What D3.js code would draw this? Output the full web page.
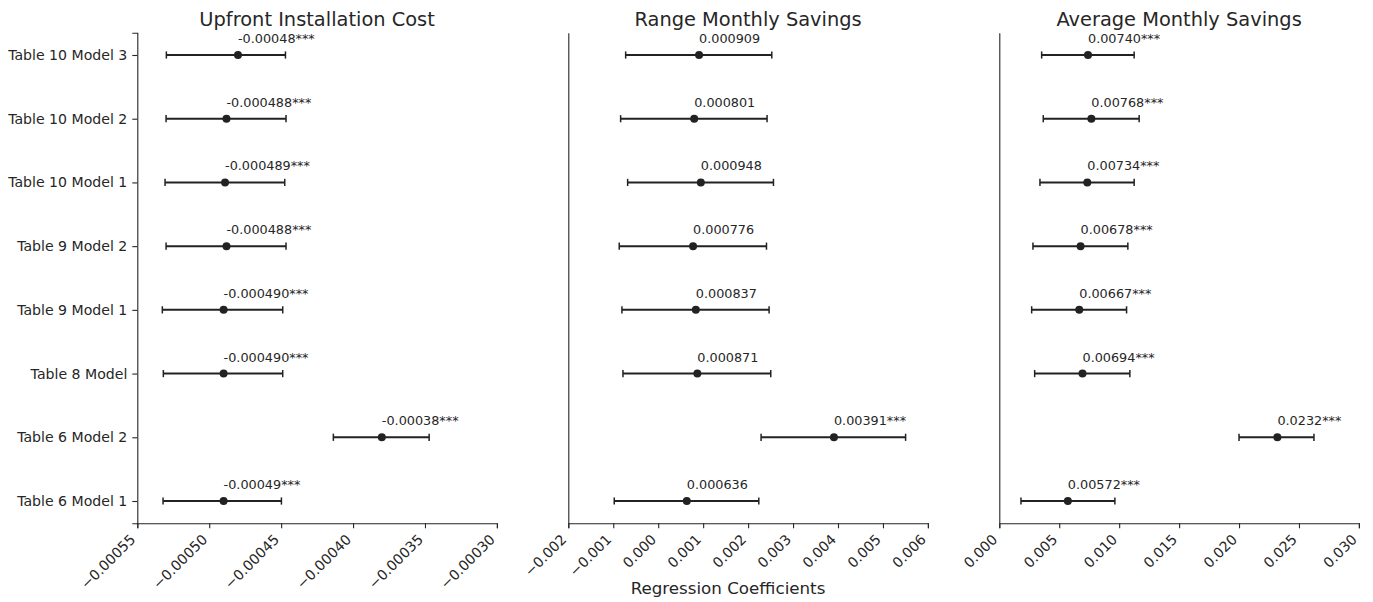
<!DOCTYPE html>
<html>
<head>
<meta charset="utf-8">
<script src="https://cdn.jsdelivr.net/npm/d3@7"></script>
<style>
  html, body { margin: 0; padding: 0; background: #fff; }
  svg { display: block; font-family: "DejaVu Sans", sans-serif; }
</style>
</head>
<body>
<svg id="chart" width="1373" height="602"></svg>
<script>
// Model specifications, listed top to bottom
const models = [
  "Table 10 Model 3", "Table 10 Model 2", "Table 10 Model 1", "Table 9 Model 2",
  "Table 9 Model 1", "Table 8 Model", "Table 6 Model 2", "Table 6 Model 1"
];

// Upfront installation cost: coefficient (as reported), 95% CI bounds, significance
const upfrontCoef = ["-0.00048", "-0.000488", "-0.000489", "-0.000488", "-0.000490", "-0.000490", "-0.00038", "-0.00049"];
const upfrontLow  = [-0.0005298, -0.0005300, -0.0005307, -0.0005300, -0.0005326, -0.0005319, -0.0004137, -0.0005321];
const upfrontHigh = [-0.0004470, -0.0004466, -0.0004475, -0.0004466, -0.0004489, -0.0004489, -0.0003471, -0.0004498];
const upfrontStars = ["***", "***", "***", "***", "***", "***", "***", "***"];
const upfrontTicks = [-0.00055, -0.00050, -0.00045, -0.00040, -0.00035, -0.00030];

// Range of monthly savings
const rangeCoef = ["0.000909", "0.000801", "0.000948", "0.000776", "0.000837", "0.000871", "0.00391", "0.000636"];
const rangeLow  = [-0.000724, -0.000836, -0.000680, -0.000867, -0.000807, -0.000784, 0.002289, -0.000978];
const rangeHigh = [0.002527, 0.002422, 0.002564, 0.002409, 0.002467, 0.002504, 0.005504, 0.002238];
const rangeStars = ["", "", "", "", "", "", "***", ""];
const rangeTicks = [-0.002, -0.001, 0.000, 0.001, 0.002, 0.003, 0.004, 0.005, 0.006];

// Average monthly savings
const avgCoef = ["0.00740", "0.00768", "0.00734", "0.00678", "0.00667", "0.00694", "0.0232", "0.00572"];
const avgLow  = [0.003533, 0.003667, 0.003392, 0.002808, 0.002700, 0.002950, 0.020000, 0.001808];
const avgHigh = [0.011250, 0.011667, 0.011250, 0.010725, 0.010617, 0.010892, 0.026250, 0.009642];
const avgStars = ["***", "***", "***", "***", "***", "***", "***", "***"];
const avgTicks = [0.000, 0.005, 0.010, 0.015, 0.020, 0.025, 0.030];

const panels = [
  { title: "Upfront Installation Cost", coef: upfrontCoef, low: upfrontLow, high: upfrontHigh, stars: upfrontStars,
    ticks: upfrontTicks, fmt: d3.format(".5f"), left: 137.3 },
  { title: "Range Monthly Savings", coef: rangeCoef, low: rangeLow, high: rangeHigh, stars: rangeStars,
    ticks: rangeTicks, fmt: d3.format(".3f"), left: 568.3 },
  { title: "Average Monthly Savings", coef: avgCoef, low: avgLow, high: avgHigh, stars: avgStars,
    ticks: avgTicks, fmt: d3.format(".3f"), left: 999.3 }
];

const panelWidth = 359.6;
const plotTop = 32.7, plotBottom = 523.3;
const ink = "#262626";
const markColor = "#222222";

const svg = d3.select("#chart");

// Categorical rows placed at integer positions, first row at the top
const y = d3.scaleLinear().domain([-0.35, models.length - 1 + 0.35]).range([plotBottom, plotTop]);
const rowPos = (i) => y(models.length - 1 - i);

panels.forEach((p, pi) => {
  const g = svg.append("g");
  const x = d3.scaleLinear()
    .domain([p.ticks[0], p.ticks[p.ticks.length - 1]])
    .range([p.left, p.left + panelWidth]);

  // Bottom axis with rotated tick labels
  const xAxis = d3.axisBottom(x).tickValues(p.ticks).tickFormat(d => p.fmt(d).replace("-", "\u2212"))
    .tickSizeOuter(0).tickSize(5).tickPadding(0);
  const xg = g.append("g").attr("transform", `translate(0,${plotBottom})`).call(xAxis);
  xg.select(".domain").attr("stroke", ink).attr("stroke-width", 1.1);
  xg.selectAll(".tick line").attr("stroke", ink).attr("stroke-width", 1.1);
  xg.selectAll(".tick text")
    .attr("fill", ink)
    .style("font-size", "14.1px")
    .style("font-family", "DejaVu Sans")
    .attr("text-anchor", "end")
    .attr("dy", null)
    .attr("y", null)
    .attr("transform", "translate(-1.5,17) rotate(-45)");

  // Left axis; labels only on the first panel
  const yAxis = d3.axisLeft(y)
    .tickValues(d3.range(models.length))
    .tickFormat(pi === 0 ? (d => models[models.length - 1 - d]) : () => "")
    .tickSizeOuter(0).tickSize(pi === 0 ? 5 : 0).tickPadding(5);
  const yg = g.append("g").attr("transform", `translate(${p.left},0)`).call(yAxis);
  yg.select(".domain").attr("stroke", ink).attr("stroke-width", 1.1);
  yg.selectAll(".tick line").attr("stroke", ink).attr("stroke-width", 1.1);
  yg.selectAll(".tick text").attr("fill", ink).style("font-size", "14.1px").style("font-family", "DejaVu Sans");

  // Title
  g.append("text")
    .attr("x", p.left + panelWidth / 2)
    .attr("y", 26)
    .attr("text-anchor", "middle")
    .attr("fill", ink)
    .style("font-size", "19.4px")
    .text(p.title);

  // Confidence interval bars, caps, point estimates, annotations
  const rows = models.map((m, i) => ({
    i, coef: +p.coef[i], text: p.coef[i] + p.stars[i], low: p.low[i], high: p.high[i]
  }));

  const marks = g.append("g");
  marks.selectAll("line.ci").data(rows).join("line").attr("class", "ci")
    .attr("x1", d => x(d.low)).attr("x2", d => x(d.high))
    .attr("y1", d => rowPos(d.i)).attr("y2", d => rowPos(d.i))
    .attr("stroke", markColor).attr("stroke-width", 2);

  ["low", "high"].forEach(k => {
    marks.selectAll(`line.cap-${k}`).data(rows).join("line").attr("class", `cap-${k}`)
      .attr("x1", d => x(d[k])).attr("x2", d => x(d[k]))
      .attr("y1", d => rowPos(d.i) - 3.6).attr("y2", d => rowPos(d.i) + 3.6)
      .attr("stroke", markColor).attr("stroke-width", 1.5);
  });

  marks.selectAll("circle").data(rows).join("circle")
    .attr("cx", d => x(d.coef)).attr("cy", d => rowPos(d.i)).attr("r", 4)
    .attr("fill", markColor);

  marks.selectAll("text").data(rows).join("text")
    .attr("x", d => x(d.coef)).attr("y", d => rowPos(d.i) - 12)
    .attr("fill", ink)
    .style("font-size", "12.8px")
    .text(d => d.text);
});

// Shared x-axis label
svg.append("text")
  .attr("x", 728).attr("y", 594)
  .attr("text-anchor", "middle")
  .attr("fill", ink)
  .style("font-size", "16.7px")
  .text("Regression Coefficients");
</script>
</body>
</html>
